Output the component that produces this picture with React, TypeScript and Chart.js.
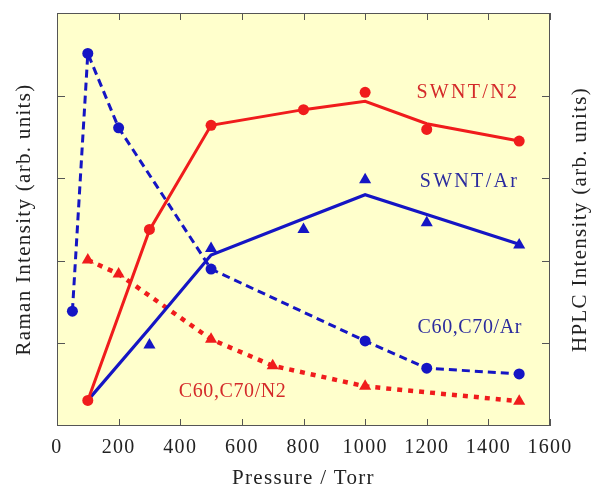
import React, { useEffect, useRef } from "react";
import { Chart, registerables } from "chart.js";

Chart.register(...registerables);

// ---- data ----
const xTickValues = [0, 200, 400, 600, 800, 1000, 1200, 1400, 1600];
const yTickMarks = [1, 2, 3, 4];

// SWNT / N2 (red, solid fit line + circle markers)
const swntN2LineX = [100, 300, 500, 800, 1000, 1200, 1500];
const swntN2LineY = [0.31, 2.37, 3.64, 3.83, 3.93, 3.66, 3.45];
const swntN2PtX = [100, 300, 500, 800, 1000, 1200, 1500];
const swntN2PtY = [0.31, 2.38, 3.64, 3.83, 4.04, 3.59, 3.45];

// SWNT / Ar (blue, solid fit line + triangle markers)
const swntArLineX = [100, 300, 500, 800, 1000, 1200, 1500];
const swntArLineY = [0.31, 1.18, 2.07, 2.51, 2.8, 2.56, 2.2];
const swntArPtX = [300, 500, 800, 1000, 1200, 1500];
const swntArPtY = [0.98, 2.15, 2.38, 2.98, 2.46, 2.19];

// C60,C70 / Ar (blue dashed, circles)
const c60ArX = [50, 100, 200, 500, 1000, 1200, 1500];
const c60ArY = [1.39, 4.51, 3.61, 1.9, 1.03, 0.7, 0.63];

// C60,C70 / N2 (red dotted, triangles)
const c60N2X = [100, 200, 500, 700, 1000, 1500];
const c60N2Y = [2.01, 1.84, 1.05, 0.73, 0.48, 0.3];

// in-plot labels
const labelTexts = ["SWNT/N2", "SWNT/Ar", "C60,C70/Ar", "C60,C70/N2"];
const labelX = [1500, 1500, 1509, 570];
const labelY = [4.04, 2.96, 1.19, 0.41];
const labelAlign = ["right", "right", "right", "center"];
const labelSpacing = ["2.3px", "2.3px", "0.6px", "0.6px"];
const labelIsRed = [true, false, false, true];

const RED = "#f01c1c";
const BLUE = "#1515c4";
const RED_TEXT = "#d42a2a";
const BLUE_TEXT = "#2b2b9e";
const PLOT_BG = "#ffffcc";
const AXIS = "#555555";
const TEXT = "#222222";
const FONT = '"Liberation Serif", "Times New Roman", serif';

const pts = (xs: number[], ys: number[]) => xs.map((x, i) => ({ x, y: ys[i] }));

const deco = {
  id: "deco",
  beforeDraw(chart: any) {
    const { ctx, chartArea: a } = chart;
    ctx.save();
    ctx.fillStyle = PLOT_BG;
    ctx.fillRect(a.left, a.top, a.right - a.left, a.bottom - a.top);
    ctx.restore();
    ctx.letterSpacing = "1.3px";
  },
  afterDraw(chart: any) {
    const { ctx, chartArea: a, scales } = chart;
    ctx.save();
    ctx.letterSpacing = "0px";
    ctx.strokeStyle = AXIS;
    ctx.lineWidth = 1;
    ctx.strokeRect(a.left + 0.5, a.top + 0.5, a.right - a.left - 1, a.bottom - a.top - 1);
    ctx.beginPath();
    xTickValues.forEach((v) => {
      const px = Math.round(scales.x.getPixelForValue(v)) + 0.5;
      ctx.moveTo(px, a.bottom);
      ctx.lineTo(px, a.bottom - 7);
      ctx.moveTo(px, a.top);
      ctx.lineTo(px, a.top + 7);
    });
    yTickMarks.forEach((v) => {
      const py = Math.round(scales.y.getPixelForValue(v)) + 0.5;
      ctx.moveTo(a.left, py);
      ctx.lineTo(a.left + 8, py);
      ctx.moveTo(a.right, py);
      ctx.lineTo(a.right - 8, py);
    });
    ctx.stroke();

    // in-plot labels
    ctx.font = `20px ${FONT}`;
    ctx.textBaseline = "middle";
    labelTexts.forEach((t, i) => {
      ctx.letterSpacing = labelSpacing[i];
      ctx.textAlign = labelAlign[i];
      ctx.fillStyle = labelIsRed[i] ? RED_TEXT : BLUE_TEXT;
      ctx.fillText(t, scales.x.getPixelForValue(labelX[i]), scales.y.getPixelForValue(labelY[i]));
    });

    // right axis title (reads bottom to top)
    ctx.letterSpacing = "1.3px";
    ctx.font = `21px ${FONT}`;
    ctx.fillStyle = TEXT;
    ctx.textAlign = "center";
    ctx.translate(580, (a.top + a.bottom) / 2);
    ctx.rotate(-Math.PI / 2);
    ctx.fillText("HPLC Intensity (arb. units)", 0, 0);
    ctx.restore();
  },
};

export default function App() {
  const ref = useRef<HTMLCanvasElement | null>(null);
  useEffect(() => {
    if (!ref.current) return;
    const chart = new Chart(ref.current, {
      type: "scatter",
      data: {
        datasets: [
          {
            label: "SWNT/N2 points",
            data: pts(swntN2PtX, swntN2PtY),
            showLine: false,
            pointStyle: "circle",
            pointRadius: 5.5,
            backgroundColor: RED,
            borderColor: RED,
            borderWidth: 0,
          },
          {
            label: "SWNT/N2 fit",
            data: pts(swntN2LineX, swntN2LineY),
            showLine: true,
            pointRadius: 0,
            borderColor: RED,
            borderWidth: 3,
            tension: 0,
          },
          {
            label: "SWNT/Ar points",
            data: pts(swntArPtX, swntArPtY),
            showLine: false,
            pointStyle: "triangle",
            pointRadius: 7,
            backgroundColor: BLUE,
            borderColor: BLUE,
            borderWidth: 0,
          },
          {
            label: "SWNT/Ar fit",
            data: pts(swntArLineX, swntArLineY),
            showLine: true,
            pointRadius: 0,
            borderColor: BLUE,
            borderWidth: 3.2,
            tension: 0,
          },
          {
            label: "C60,C70/Ar",
            data: pts(c60ArX, c60ArY),
            showLine: true,
            pointStyle: "circle",
            pointRadius: 5.5,
            backgroundColor: BLUE,
            borderColor: BLUE,
            pointBorderWidth: 0,
            borderWidth: 3,
            borderDash: [8, 5],
            tension: 0,
          },
          {
            label: "C60,C70/N2",
            data: pts(c60N2X, c60N2Y),
            showLine: true,
            pointStyle: "triangle",
            pointRadius: 7,
            backgroundColor: RED,
            borderColor: RED,
            pointBorderWidth: 0,
            borderWidth: 4.5,
            borderDash: [5, 6],
            tension: 0,
          },
        ],
      },
      options: {
        animation: false,
        responsive: true,
        maintainAspectRatio: false,
        layout: { padding: { top: 13, left: 0, right: 0, bottom: 0 } },
        plugins: { legend: { display: false }, tooltip: { enabled: false } },
        scales: {
          x: {
            type: "linear",
            min: 0,
            max: 1600,
            afterBuildTicks: (s: any) => {
              s.ticks = xTickValues.map((v) => ({ value: v }));
            },
            ticks: {
              font: { family: FONT, size: 20 },
              color: TEXT,
              padding: 2,
              callback: (v: any) => String(v),
            },
            grid: { display: false },
            border: { display: false },
            title: {
              display: true,
              text: "Pressure / Torr",
              font: { family: FONT, size: 21, lineHeight: 0.8 },
              color: TEXT,
              padding: { top: 0, bottom: -1 },
            },
            afterFit: (s: any) => {
              s.height = 60;
            },
          },
          y: {
            type: "linear",
            position: "left",
            min: 0,
            max: 5,
            ticks: { display: false },
            grid: { display: false },
            border: { display: false },
            title: {
              display: true,
              text: "Raman Intensity (arb. units)",
              font: { family: FONT, size: 21, lineHeight: 1.2 },
              color: TEXT,
              padding: { top: 12, bottom: 0 },
            },
            afterFit: (s: any) => {
              s.width = 57;
            },
          },
          y2: {
            type: "linear",
            position: "right",
            min: 0,
            max: 5,
            ticks: { display: false },
            grid: { display: false },
            border: { display: false },
            afterFit: (s: any) => {
              s.width = 42;
            },
          },
        },
      },
      plugins: [deco],
    } as any);
    return () => chart.destroy();
  }, []);
  return (
    <div style={{ position: "absolute", left: 0, top: 0, width: 592, height: 486 }}>
      <canvas ref={ref} />
    </div>
  );
}
